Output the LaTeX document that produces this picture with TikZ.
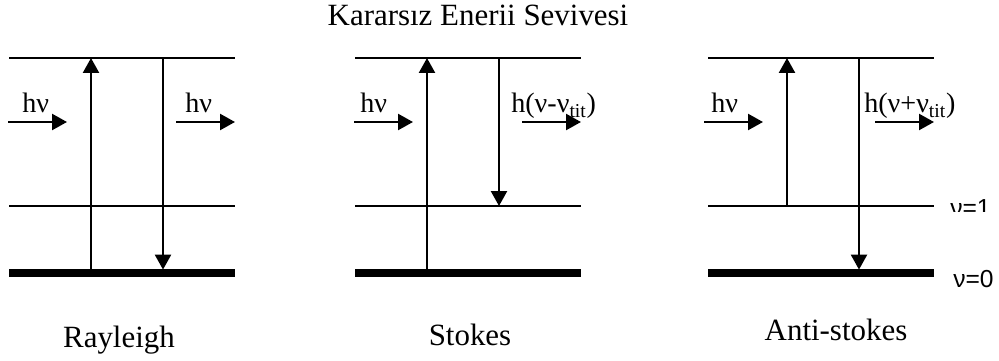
\documentclass[tikz,border=0pt]{standalone}
\usepackage{fontspec}
\setmainfont{Liberation Serif}
\newfontfamily\arialfont{Liberation Sans}
\usetikzlibrary{arrows.meta}
\tikzset{
  level/.style={line width=1.9pt},
  ground/.style={line width=5pt},
  trans/.style={line width=1.7pt, ->},
  hlabel/.style={font=\fontsize{20}{24}\selectfont, anchor=base west, inner sep=0pt},
  caption/.style={font=\fontsize{22}{26}\selectfont, anchor=base, inner sep=0pt},
  vlabel/.style={font=\arialfont\fontsize{17.5}{20}\selectfont, anchor=base west, inner sep=0pt}
}
\begin{document}
\begin{tikzpicture}[>={Triangle[length=0.375cm,width=0.4cm]}]
    \useasboundingbox (0,0) rectangle (24.975,9);
    \node[caption] (title) at (11.95,8.35) {Kararsız Enerii Sevivesi};

    % ===== Rayleigh =====
    \def\xR{0.225}
    \draw[level] (\xR,7.55) -- (\xR+5.65,7.55);
    \draw[level] (\xR,3.85) -- (\xR+5.65,3.85);
    \draw[ground] (\xR,2.175) -- (\xR+5.65,2.175);

    \coordinate (r-up-s) at (\xR+2.05,2.175);
    \coordinate (r-up-e) at (\xR+2.05,7.55);
    \coordinate (r-dn-s) at (\xR+3.85,7.55);
    \coordinate (r-dn-e) at (\xR+3.85,2.26);
    \draw[trans] (r-up-s) -- (r-up-e);
    \draw[trans] (r-dn-s) -- (r-dn-e);

    \coordinate (r-in-s) at (0.2,5.95);
    \coordinate (r-in-e) at (1.675,5.95);
    \coordinate (r-out-s) at (4.4,5.95);
    \coordinate (r-out-e) at (5.875,5.95);
    \draw[trans] (r-in-s) -- (r-in-e);
    \draw[trans] (r-out-s) -- (r-out-e);
    \node[hlabel] (r-in) at (0.55,6.175) {hν};
    \node[hlabel] (r-out) at (4.625,6.175) {hν};
    \node[caption] (rayleigh) at (2.975,0.325) {Rayleigh};

    % ===== Stokes =====
    \def\xS{8.875}
    \draw[level] (\xS,7.55) -- (\xS+5.65,7.55);
    \draw[level] (\xS,3.85) -- (\xS+5.65,3.85);
    \draw[ground] (\xS,2.175) -- (\xS+5.65,2.175);

    \coordinate (s-up-s) at (\xS+1.8,2.175);
    \coordinate (s-up-e) at (\xS+1.8,7.55);
    \coordinate (s-dn-s) at (\xS+3.6,7.55);
    \coordinate (s-dn-e) at (\xS+3.6,3.85);
    \draw[trans] (s-up-s) -- (s-up-e);
    \draw[trans] (s-dn-s) -- (s-dn-e);

    \coordinate (s-in-s) at (8.85,5.95);
    \coordinate (s-in-e) at (10.325,5.95);
    \coordinate (s-out-s) at (13.05,5.95);
    \coordinate (s-out-e) at (14.525,5.95);
    \draw[trans] (s-in-s) -- (s-in-e);
    \draw[trans] (s-out-s) -- (s-out-e);
    \node[hlabel] (s-in) at (9.0,6.175) {hν};
    \node[hlabel] (s-out) at (12.775,6.175) {h(ν-ν\textsubscript{tit})};
    \node[caption] (stokes) at (11.75,0.375) {Stokes};

    % ===== Anti-stokes =====
    \def\xA{17.7}
    \draw[level] (\xA,7.55) -- (\xA+5.65,7.55);
    \draw[level] (\xA,3.85) -- (\xA+5.65,3.85);
    \draw[ground] (\xA,2.175) -- (\xA+5.65,2.175);

    \coordinate (a-up-s) at (\xA+1.975,3.85);
    \coordinate (a-up-e) at (\xA+1.975,7.55);
    \coordinate (a-dn-s) at (\xA+3.775,7.55);
    \coordinate (a-dn-e) at (\xA+3.775,2.26);
    \draw[trans] (a-up-s) -- (a-up-e);
    \draw[trans] (a-dn-s) -- (a-dn-e);

    \coordinate (a-in-s) at (17.6,5.95);
    \coordinate (a-in-e) at (19.075,5.95);
    \coordinate (a-out-s) at (21.875,5.95);
    \coordinate (a-out-e) at (23.35,5.95);
    \draw[trans] (a-in-s) -- (a-in-e);
    \draw[trans] (a-out-s) -- (a-out-e);
    \node[hlabel] (a-in) at (17.775,6.175) {hν};
    \node[hlabel] (a-out) at (21.6,6.175) {h(ν+ν\textsubscript{tit})};
    \node[caption] (antistokes) at (20.9,0.5) {Anti-stokes};

    % level names (upper one cut off)
    \begin{scope}
        \clip (23.5,3.725) rectangle (24.975,4.5);
        \node[vlabel] (v1) at (23.75,3.6) {ν=1};
    \end{scope}
    \node[vlabel] (v0) at (23.825,1.825) {ν=0};
\end{tikzpicture}
\end{document}
